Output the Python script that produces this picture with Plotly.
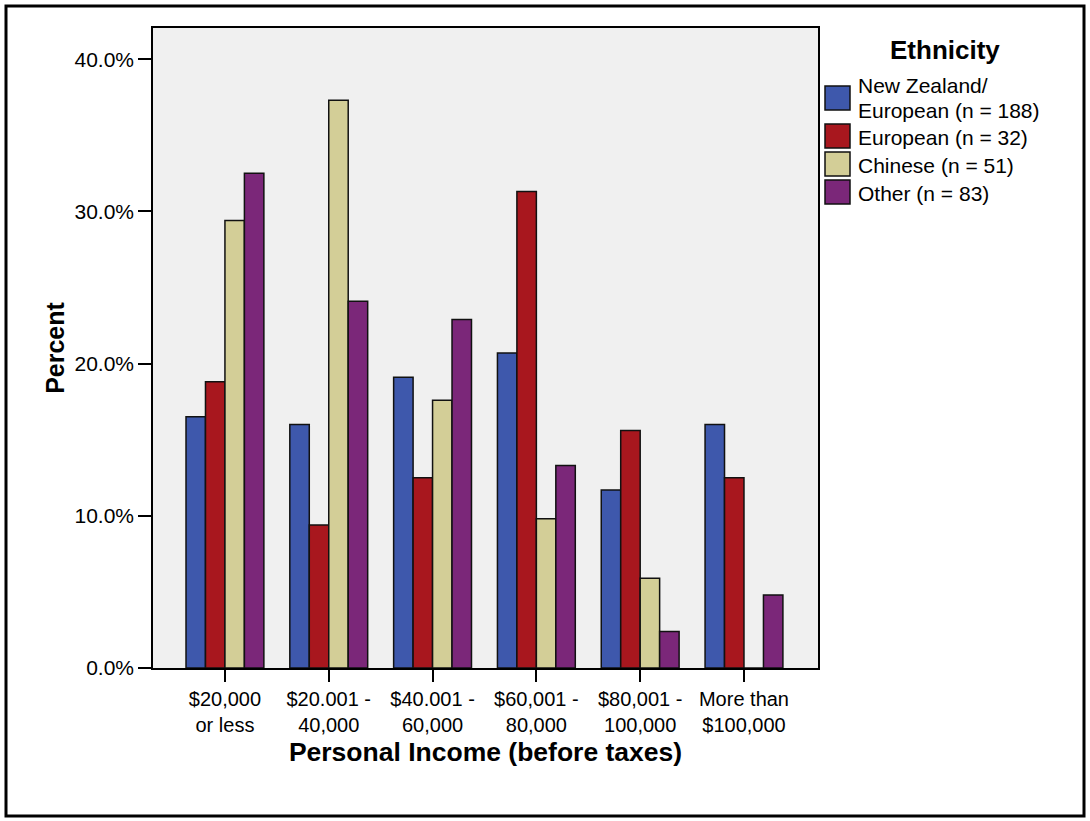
import plotly.graph_objects as go

categories = ["$20,000<br>or less", "$20.001 -<br>40,000", "$40.001 -<br>60,000",
              "$60,001 -<br>80,000", "$80,001 -<br>100,000", "More than<br>$100,000"]
series_names = ["New Zealand/ European (n = 188)", "European (n = 32)",
                "Chinese (n = 51)", "Other (n = 83)"]
nz_european = [16.5, 16.0, 19.1, 20.7, 11.7, 16.0]
european = [18.8, 9.4, 12.5, 31.3, 15.6, 12.5]
chinese = [29.4, 37.3, 17.6, 9.8, 5.9, 0.0]
other = [32.5, 24.1, 22.9, 13.3, 2.4, 4.8]
y_ticks = [0, 10, 20, 30, 40]
y_tick_labels = ["0.0%", "10.0%", "20.0%", "30.0%", "40.0%"]

colors = ["#3E58AC", "#A8171E", "#D3CE97", "#7B2779"]
values = [nz_european, european, chinese, other]

W, H = 1090, 821
L, R, T, B = 153, 818, 28, 668
FONT = "Liberation Sans, Arial, sans-serif"


def px(x):
    return (x - L) / (R - L)


def py(y):
    return (B - y) / (B - T)


fig = go.Figure()
for name, vals, col in zip(series_names, values, colors):
    fig.add_trace(go.Bar(
        x=categories, y=vals, name=name,
        marker=dict(color=col, line=dict(color="#111111", width=1.5)),
        showlegend=False,
    ))

shapes = []
annotations = []
# outer frame
shapes.append(dict(type="rect", xref="paper", yref="paper",
                   x0=px(6), x1=px(1084), y0=py(6), y1=py(816),
                   line=dict(color="black", width=3), fillcolor="rgba(0,0,0,0)"))

# custom legend
annotations.append(dict(text="<b>Ethnicity</b>", xref="paper", yref="paper",
                        x=px(945), y=py(50), xanchor="center", yanchor="middle",
                        showarrow=False, font=dict(family=FONT, size=26, color="black")))
sw = [(86, 110), (124, 148), (152, 176), (180, 204)]
for (y0, y1), col in zip(sw, colors):
    shapes.append(dict(type="rect", xref="paper", yref="paper",
                       x0=px(825), x1=px(850), y0=py(y0), y1=py(y1),
                       fillcolor=col, line=dict(color="#111111", width=1.5)))
leg_text = [("New Zealand/", 86), ("European (n = 188)", 111),
            ("European (n = 32)", 137), ("Chinese (n = 51)", 165),
            ("Other (n = 83)", 193)]
for t, yc in leg_text:
    annotations.append(dict(text=t, xref="paper", yref="paper",
                            x=px(856), y=py(yc), xanchor="left", yanchor="middle",
                            showarrow=False, font=dict(family=FONT, size=21, color="black")))

fig.update_layout(
    width=W, height=H,
    margin=dict(l=L, r=W - R, t=T, b=H - B, autoexpand=False),
    paper_bgcolor="white", plot_bgcolor="#F0F0F0",
    barmode="group", bargap=0.25, bargroupgap=0,
    font=dict(family=FONT, color="black"),
    shapes=shapes, annotations=annotations,
    xaxis=dict(
        type="category", range=[-0.693, 5.713],
        showline=True, mirror=True, linecolor="black", linewidth=1.5,
        ticks="outside", ticklen=12, tickwidth=1.5, tickcolor="black",
        tickfont=dict(family=FONT, size=20, color="black"),
        showgrid=False, zeroline=False,
        title=dict(text="<b>Personal Income (before taxes)</b>",
                   font=dict(family=FONT, size=26.5, color="black"), standoff=8),
    ),
    yaxis=dict(
        range=[0, 42.05], tickvals=y_ticks, ticktext=y_tick_labels,
        showline=True, mirror=True, linecolor="black", linewidth=1.5,
        ticks="outside", ticklen=13, tickwidth=1.5, tickcolor="black",
        tickfont=dict(family=FONT, size=21, color="black"),
        showgrid=False, zeroline=False,
        title=dict(text="<b>Percent</b>",
                   font=dict(family=FONT, size=25, color="black"), standoff=3),
    ),
)

fig.write_html("out.html", config={"displayModeBar": False},
               post_script="document.body.style.margin='0';document.body.style.overflow='hidden';")
